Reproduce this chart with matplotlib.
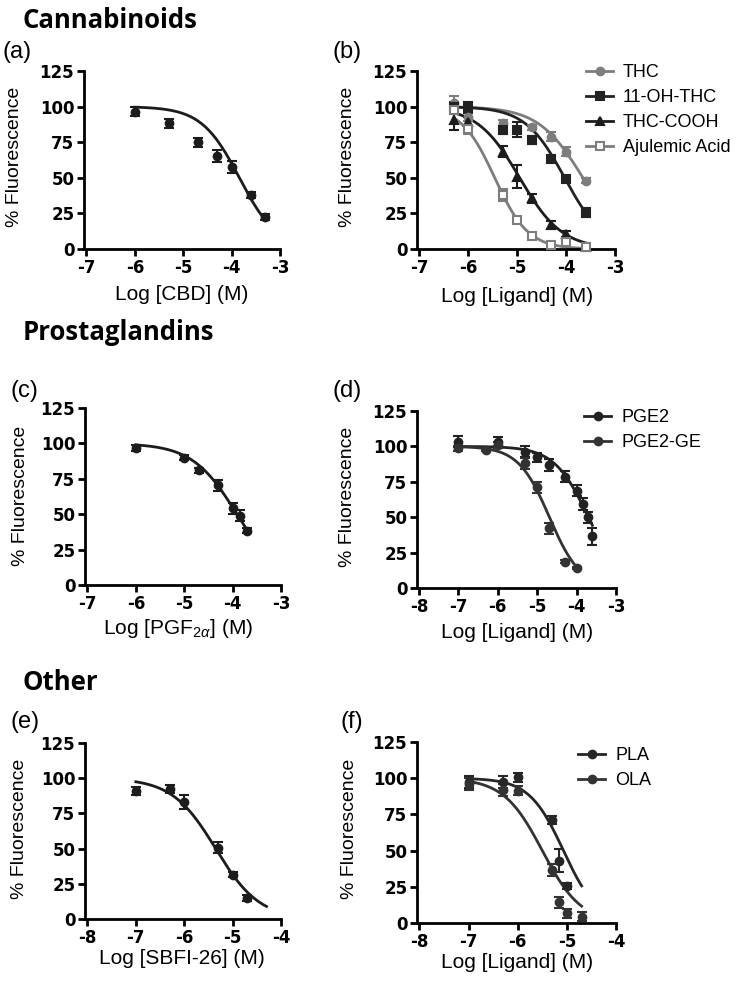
import numpy as np
import matplotlib
matplotlib.use("Agg")
import matplotlib.pyplot as plt
from matplotlib.lines import Line2D

plt.rcParams["font.family"] = ["Liberation Sans", "DejaVu Sans"]
plt.rcParams["axes.unicode_minus"] = False
plt.rcParams["mathtext.fontset"] = "custom"
plt.rcParams["mathtext.rm"] = "Liberation Sans"
plt.rcParams["mathtext.it"] = "Liberation Sans:italic"

# ---- (a) CBD
cbd_x = [-6, -5.3, -4.7, -4.3, -4, -3.6, -3.3]
cbd_y = [96.4, 88.2, 74.8, 65.4, 57.7, 37.8, 22.5]
cbd_err = [3, 3, 3, 4, 4, 2, 2]

# ---- (b) cannabinoid ligands
thc_x = [-6.3, -6, -5.3, -4.7, -4.3, -4, -3.6]
thc_y = [102.7, 93, 88.3, 85.4, 78.9, 68.4, 48]
thc_err = [5, 3, 2, 2, 3, 3, 2]
lig_x = [-6.3, -6, -5.3, -5, -4.7, -4.3, -4, -3.6]
oh_thc_y = [100, 99.5, 83.6, 83.9, 76.5, 63.2, 48.9, 25.5]
oh_thc_err = [3, 4, 3, 5, 3, 2, 2, 3]
cooh_y = [90.6, 89.4, 68.4, 50.8, 35.6, 16.9, 10.3, 1.6]
cooh_err = [7, 3, 4, 8, 3, 3, 2, 1]
aju_y = [97.6, 84, 37.9, 20.4, 9.1, 2.8, 5.2, 1.6]
aju_err = [3, 3, 4, 2, 2, 1, 1, 1]

# ---- (c) PGF2a
pgf_x = [-6, -5, -4.7, -4.3, -4, -3.85, -3.7]
pgf_y = [96.7, 90, 80.9, 70.3, 54.2, 49, 38.4]
pgf_err = [2, 2, 2, 4, 4, 4, 2]

# ---- (d) PGE2 / PGE2-GE
pge2_x = [-7, -6, -5.3, -5, -4.7, -4.3, -4, -3.85, -3.7, -3.6]
pge2_y = [103.3, 103.3, 96.3, 92.3, 86.9, 78.6, 68.7, 59.3, 49.9, 36.7]
pge2_err = [4, 3, 4, 3, 4, 4, 4, 4, 4, 6]
pge2ge_x = [-7, -6.3, -6, -5.3, -5, -4.7, -4.3, -4]
pge2ge_y = [98.6, 97.5, 101, 88.1, 71.1, 42.2, 18.6, 14.1]
pge2ge_err = [2, 1, 2, 4, 4, 4, 1, 1]

# ---- (e) SBFI-26
sbfi_x = [-7, -6.3, -6, -5.3, -5, -4.7]
sbfi_y = [91.1, 92.3, 82.9, 50.7, 31.5, 14.9]
sbfi_err = [3, 3, 5, 4, 2, 2]

# ---- (f) PLA / OLA
pla_x = [-7, -6.3, -6, -5.3, -5.15, -5]
pla_y = [97.3, 97.5, 100.6, 71.1, 43.1, 25.6]
pla_err = [4, 4, 3, 3, 8, 2]
ola_x = [-7, -6.3, -6, -5.3, -5.15, -5, -4.7]
ola_y = [96, 91.9, 91.3, 36.6, 14.2, 6.7, 4.4]
ola_err = [4, 4, 3, 4, 4, 3, 3]

# fitted curve parameters: top, bottom, logIC50, hill slope, x start, x end
fit_cbd = [100, 0, -3.84, 1.11, -6, -3.3]
fit_thc = [100, 0, -3.655, 0.95, -6.3, -3.6]
fit_oh_thc = [100, 0, -4.03, 1.08, -6.3, -3.6]
fit_cooh = [100, 0, -4.95, 1.0, -6.3, -3.6]
fit_aju = [100, 0, -5.46, 1.27, -6.3, -3.6]
fit_pgf = [100, 0, -3.91, 0.94, -6, -3.7]
fit_pge2 = [100, 0, -3.7, 1.0, -7, -3.6]
fit_pge2ge = [100, 0, -4.69, 1.1, -7, -4]
fit_sbfi = [100, 0, -5.35, 0.96, -7, -4.3]
fit_pla = [100, 0, -5.07, 1.25, -7, -4.7]
fit_ola = [100, 0, -5.5, 1.1, -7, -4.7]

W, H = 736, 984
fig = plt.figure(figsize=(W / 100, H / 100), dpi=100)

DARK = "#1c1c1c"
GREY = "#7d7d7d"


def px_axes(l, r, t, b):
    return fig.add_axes([l / W, 1 - b / H, (r - l) / W, (b - t) / H])


def sigmoid(p):
    top, bottom, ic50, slope, x0, x1 = p
    xs = np.linspace(x0, x1, 200)
    return xs, bottom + (top - bottom) / (1 + 10 ** ((xs - ic50) * slope))


def series(ax, x, y, err, fit, color, marker="o", mfc=None):
    xs, ys = sigmoid(fit)
    ax.plot(xs, ys, color=color, lw=2, zorder=2)
    ax.errorbar(x, y, yerr=err, fmt=marker, ms=5.5, color=color,
                mfc=mfc if mfc else color, mec=color, mew=1.5,
                ecolor=color, elinewidth=1.5, capsize=3.5, capthick=1.5,
                zorder=3, clip_on=False)


def style(ax, xlo, xhi, xlabel, lab_x, lab_y, ylab_x, ylab_y):
    ax.set_xlim(xlo - 0.05, xhi)
    ax.set_ylim(0, 125)
    ax.set_xticks(np.arange(xlo, xhi + 1))
    ax.set_yticks([0, 25, 50, 75, 100, 125])
    for s in ["top", "right"]:
        ax.spines[s].set_visible(False)
    for s in ["left", "bottom"]:
        ax.spines[s].set_linewidth(2)
    ax.tick_params(direction="out", length=5, width=2, labelsize=12, pad=2)
    for t in ax.get_xticklabels() + ax.get_yticklabels():
        t.set_fontweight("bold")
        t.set_family("DejaVu Sans")
    ax.set_xlabel(xlabel, fontsize=15)
    ax.xaxis.set_label_coords(lab_x / W, 1 - lab_y / H, transform=fig.transFigure)
    ax.xaxis.label.set_va("center")
    ax.set_ylabel("% Fluorescence", fontsize=14, va="center", ha="center")
    ax.yaxis.set_label_coords(ylab_x / W, 1 - ylab_y / H, transform=fig.transFigure)


def legend(ax, handles, labels, x, y):
    ax.legend(handles, labels, loc="upper left", bbox_to_anchor=(x / W, 1 - y / H),
              bbox_transform=fig.transFigure, frameon=False, fontsize=13,
              handlelength=1.5, handletextpad=0.55, labelspacing=0.45,
              borderpad=0, borderaxespad=0)


def handle(color, marker="o", mfc=None):
    return Line2D([], [], color=color, lw=2, marker=marker, ms=5.5,
                  mfc=mfc if mfc else color, mec=color, mew=1.5)


# section headings and panel letters
for txt, y in [("Cannabinoids", 20), ("Prostaglandins", 332), ("Other", 683)]:
    fig.text(23 / W, 1 - y / H, txt, fontsize=18.5, fontweight="bold",
             family="Open Sans", va="center", ha="left")
for txt, x, y in [("(a)", 3, 52), ("(b)", 333, 52), ("(c)", 10, 391),
                  ("(d)", 333, 391), ("(e)", 10, 722), ("(f)", 340, 722)]:
    fig.text(x / W, 1 - y / H, txt, fontsize=17, va="center", ha="left")

# (a)
ax = px_axes(84, 280, 71, 249)
series(ax, cbd_x, cbd_y, cbd_err, fit_cbd, DARK)
style(ax, -7, -3, "Log [CBD] (M)", 182, 294, 15, 157)

# (b)
ax = px_axes(417, 615, 71, 249)
series(ax, thc_x, thc_y, thc_err, fit_thc, GREY)
series(ax, lig_x, oh_thc_y, oh_thc_err, fit_oh_thc, "#222222", marker="s")
series(ax, lig_x, cooh_y, cooh_err, fit_cooh, DARK, marker="^")
series(ax, lig_x, aju_y, aju_err, fit_aju, GREY, marker="s", mfc="white")
style(ax, -7, -3, "Log [Ligand] (M)", 517, 296, 348, 157)
legend(ax, [handle(GREY), handle("#222222", "s"), handle(DARK, "^"),
            handle(GREY, "s", "white")],
       ["THC", "11-OH-THC", "THC-COOH", "Ajulemic Acid"], 586, 64)

# (c)
ax = px_axes(85, 281, 408, 585)
series(ax, pgf_x, pgf_y, pgf_err, fit_pgf, DARK)
style(ax, -7, -3, r"Log [PGF$_{2\alpha}$] (M)", 178, 628, 21, 496)

# (d)
ax = px_axes(417, 616, 411, 588)
series(ax, pge2_x, pge2_y, pge2_err, fit_pge2, "#222222")
series(ax, pge2ge_x, pge2ge_y, pge2ge_err, fit_pge2ge, "#333333")
style(ax, -8, -3, "Log [Ligand] (M)", 517, 633, 348, 497)
legend(ax, [handle("#222222"), handle("#333333")], ["PGE2", "PGE2-GE"], 584, 409)

# (e)
ax = px_axes(85, 281, 743, 919)
series(ax, sbfi_x, sbfi_y, sbfi_err, fit_sbfi, DARK)
style(ax, -8, -4, "Log [SBFI-26] (M)", 182, 959, 20, 829)

# (f)
ax = px_axes(417, 616, 742, 923)
series(ax, pla_x, pla_y, pla_err, fit_pla, "#262626")
series(ax, ola_x, ola_y, ola_err, fit_ola, "#333333")
style(ax, -8, -4, "Log [Ligand] (M)", 517, 963, 350, 829)
legend(ax, [handle("#262626"), handle("#333333")], ["PLA", "OLA"], 578, 747)

fig.savefig("out.png", dpi=100)
